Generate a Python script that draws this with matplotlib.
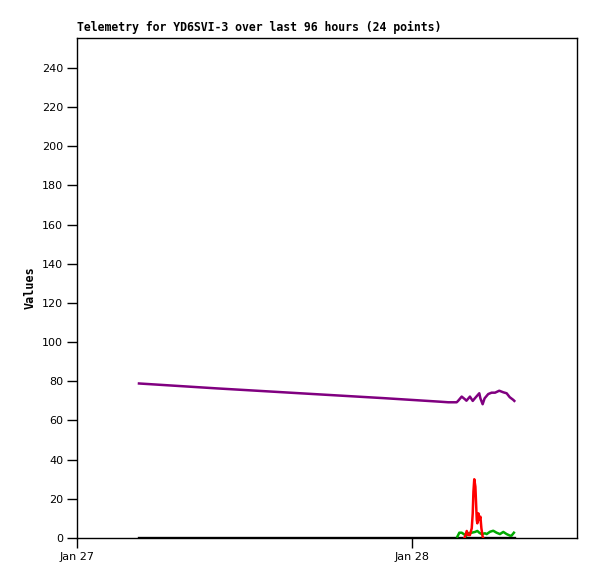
import matplotlib
matplotlib.use("Agg")
import matplotlib.pyplot as plt

# time in hours since Jan 27 00:00
purple_t = [4.44, 10.0, 15.98, 22.0, 26.0, 26.6, 27.2, 27.3, 27.56, 27.8, 27.9, 28.15, 28.35, 28.5,
            28.82, 28.9, 29.06, 29.2, 29.46, 29.7, 29.95, 30.25, 30.54, 30.78, 31.0, 31.26, 31.33]
purple_v = [78.9, 76.4, 73.9, 71.4, 69.6, 69.3, 69.3, 70.0, 72.2, 70.8, 70.1, 72.2, 70.0, 71.3,
            73.9, 71.3, 68.3, 71.3, 73.5, 74.2, 74.2, 75.2, 74.4, 73.9, 71.9, 70.5, 70.0]

red_t = [27.75, 27.8, 27.92, 28.03, 28.15, 28.28, 28.35, 28.4, 28.46, 28.54, 28.59, 28.64,
         28.68, 28.75, 28.82, 28.9, 28.97, 29.06, 29.1]
red_v = [0, 0.7, 3.6, 1.5, 1.5, 5.0, 12.6, 23.6, 30.0, 26.2, 17.7, 9.2,
         7.5, 12.6, 9.2, 10.9, 5.0, 0.7, 0]

green_t = [27.25, 27.39, 27.56, 27.73, 27.87, 28.03, 28.28, 28.52, 28.68, 28.82, 28.99,
           29.23, 29.35, 29.59, 29.82, 30.06, 30.3, 30.54, 30.78, 31.02, 31.13, 31.3]
green_v = [0.7, 2.7, 2.7, 1.9, 1.0, 2.4, 2.7, 3.1, 3.6, 2.7, 2.0,
           2.4, 2.0, 3.2, 3.7, 2.7, 2.0, 3.1, 2.0, 1.2, 1.2, 2.7]

black_t = [4.44, 31.33]
black_v = [0, 0]

x_ticks = [0, 24]
x_labels = ["Jan 27", "Jan 28"]
y_ticks = list(range(0, 241, 20))

W, H = 597, 579
fig = plt.figure(figsize=(W / 100, H / 100), dpi=100)
ax = fig.add_axes([77 / W, 1 - 538 / H, 500 / W, 500 / H])

ax.plot(black_t, black_v, color="black", lw=2.4, zorder=2)
ax.plot(green_t, green_v, color="#00aa00", lw=1.8, zorder=3)
ax.plot(red_t, red_v, color="#ff0000", lw=1.8, zorder=4)
ax.plot(purple_t, purple_v, color="#800080", lw=1.8, zorder=5)

ax.set_xlim(0, 35.82)
ax.set_ylim(0, 255.3)
ax.set_xticks(x_ticks)
ax.set_xticklabels(x_labels)
ax.set_yticks(y_ticks)
ax.tick_params(axis="both", direction="out", length=7, width=1, labelsize=8, pad=3)
for s in ax.spines.values():
    s.set_linewidth(1)

ax.set_ylabel("Values", family="DejaVu Sans Mono", fontweight="bold", fontsize=8.5, labelpad=4)
fig.text(77 / W, 1 - 31 / H, "Telemetry for YD6SVI-3 over last 96 hours (24 points)",
         family="DejaVu Sans Mono", fontweight="bold", fontsize=8.3, ha="left", va="baseline")

fig.savefig("out.png", dpi=100)
